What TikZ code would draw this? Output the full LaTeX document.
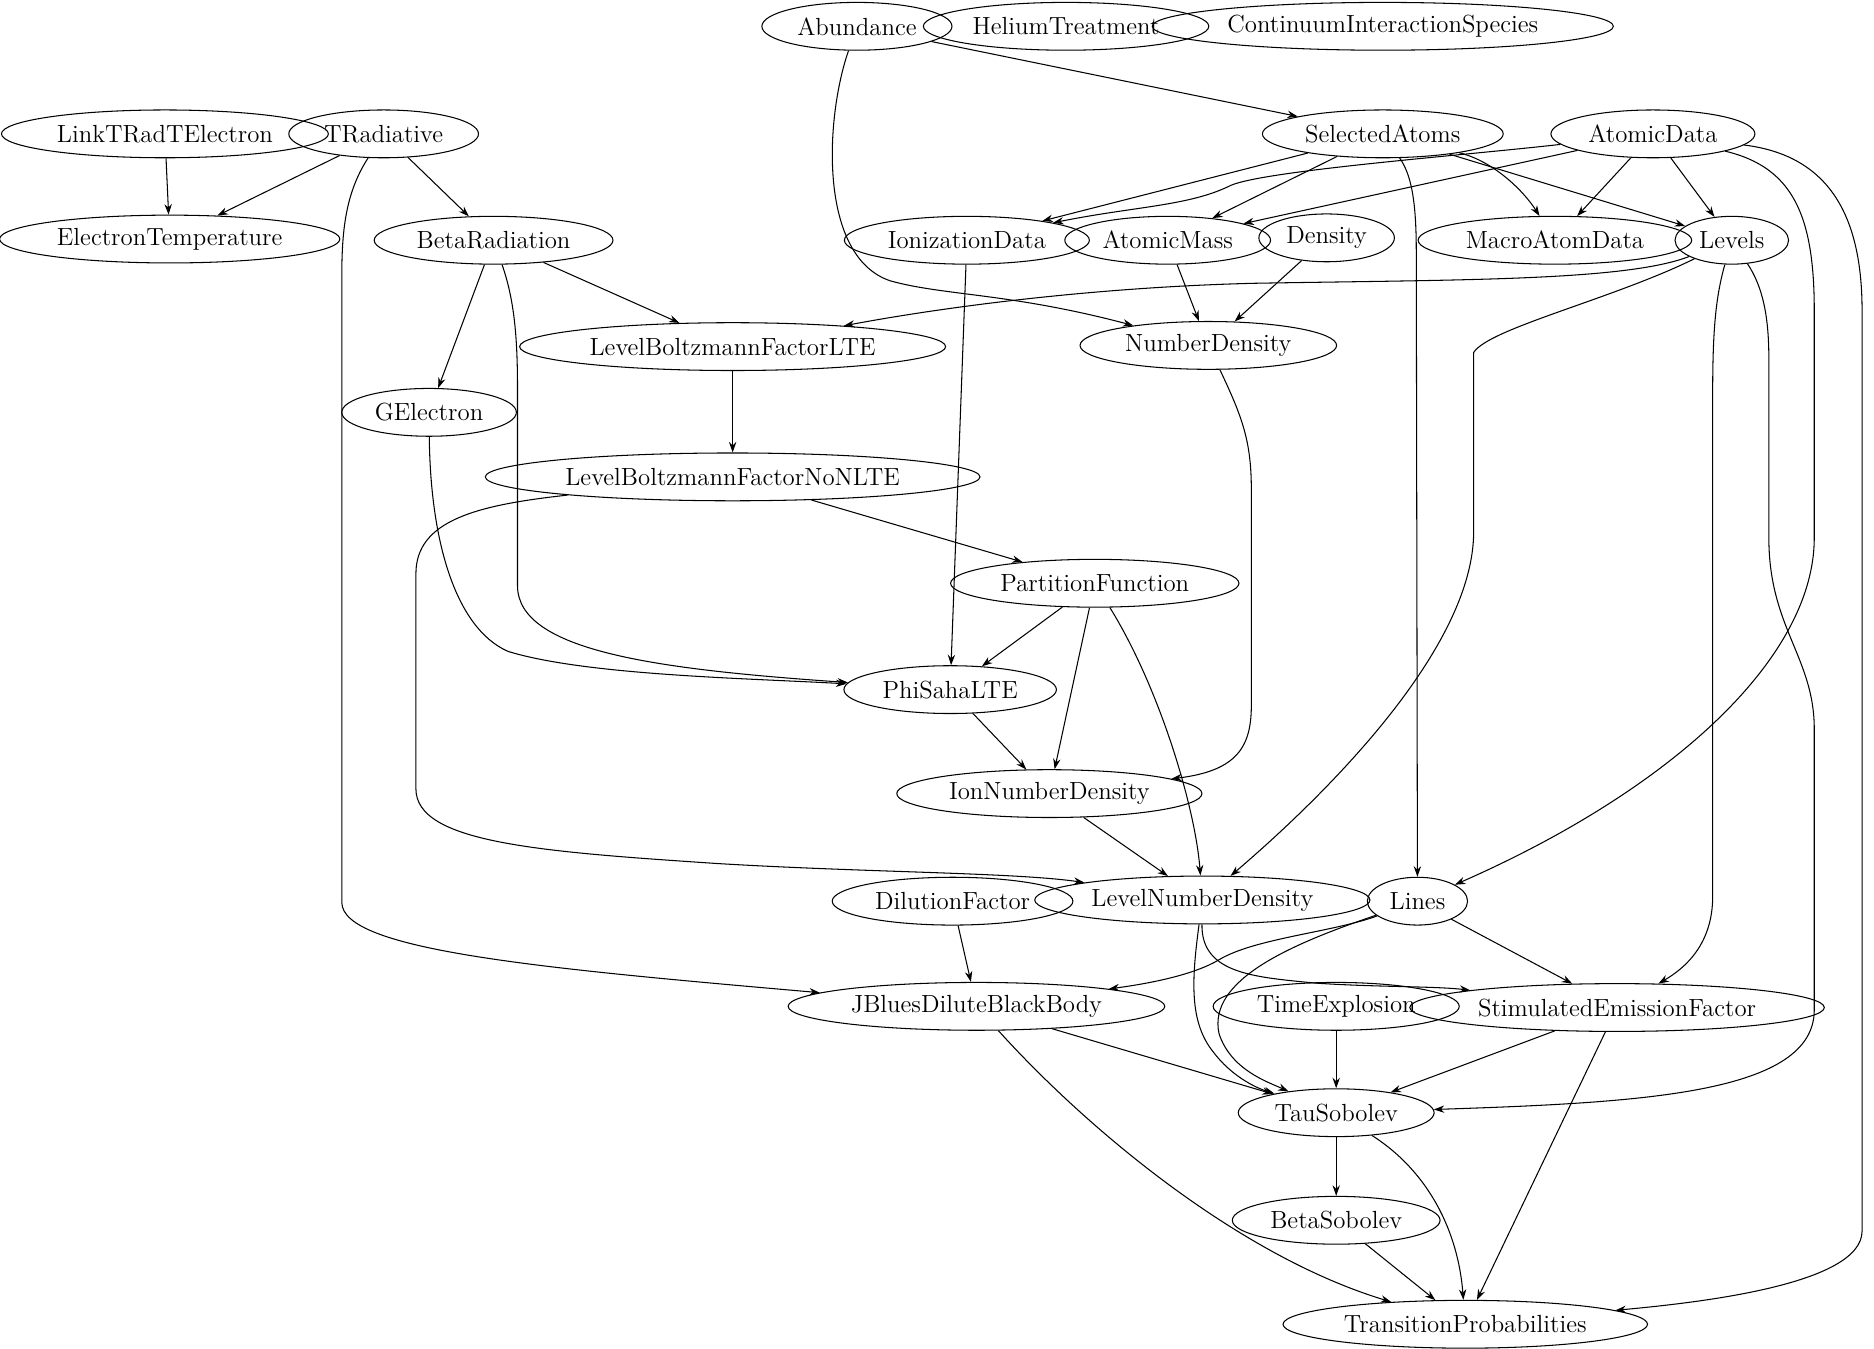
\documentclass[tikz,border=0pt]{standalone}
\usepackage{fontspec}
\usetikzlibrary{arrows.meta,shapes.geometric}

\begin{document}
\begin{tikzpicture}[
  font=\fontsize{11.8}{14}\selectfont,
  blob/.style={draw, ellipse, line width=0.5pt, inner xsep=3.6pt, inner ysep=2pt, minimum height=0.8cm},
  dep/.style={draw, line width=0.5pt, -{Stealth[length=5pt,width=3.5pt]}}
]
\useasboundingbox (0,0) rectangle (31.36,-22.56);
\node[blob] (Abundance) at (14.34,-0.44) {Abundance};
\node[blob] (HeliumTreatment) at (17.84,-0.44) {HeliumTreatment};
\node[blob] (ContinuumInteractionSpecies) at (23.14,-0.44) {ContinuumInteractionSpecies};
\node[blob] (LinkTRadTElectron) at (2.76,-2.24) {LinkTRadTElectron};
\node[blob] (TRadiative) at (6.42,-2.24) {TRadiative};
\node[blob] (SelectedAtoms) at (23.14,-2.24) {SelectedAtoms};
\node[blob] (AtomicData) at (27.66,-2.24) {AtomicData};
\node[blob] (ElectronTemperature) at (2.84,-4.0) {ElectronTemperature};
\node[blob] (BetaRadiation) at (8.26,-4.02) {BetaRadiation};
\node[blob] (IonizationData) at (16.18,-4.02) {IonizationData};
\node[blob] (AtomicMass) at (19.54,-4.02) {AtomicMass};
\node[blob] (Density) at (22.2,-3.98) {Density};
\node[blob] (MacroAtomData) at (26.02,-4.02) {MacroAtomData};
\node[blob] (Levels) at (28.98,-4.02) {Levels};
\node[blob] (LevelBoltzmannFactorLTE) at (12.26,-5.8) {LevelBoltzmannFactorLTE};
\node[blob] (NumberDensity) at (20.22,-5.78) {NumberDensity};
\node[blob] (GElectron) at (7.18,-6.9) {GElectron};
\node[blob] (LevelBoltzmannFactorNoNLTE) at (12.26,-7.98) {LevelBoltzmannFactorNoNLTE};
\node[blob] (PartitionFunction) at (18.32,-9.76) {PartitionFunction};
\node[blob] (PhiSahaLTE) at (15.9,-11.54) {PhiSahaLTE};
\node[blob] (IonNumberDensity) at (17.56,-13.28) {IonNumberDensity};
\node[blob] (DilutionFactor) at (15.94,-15.08) {DilutionFactor};
\node[blob] (LevelNumberDensity) at (20.12,-15.06) {LevelNumberDensity};
\node[blob] (Lines) at (23.72,-15.08) {Lines};
\node[blob] (JBluesDiluteBlackBody) at (16.34,-16.84) {JBluesDiluteBlackBody};
\node[blob] (TimeExplosion) at (22.36,-16.84) {TimeExplosion};
\node[blob] (StimulatedEmissionFactor) at (27.06,-16.86) {StimulatedEmissionFactor};
\node[blob] (TauSobolev) at (22.36,-18.62) {TauSobolev};
\node[blob] (BetaSobolev) at (22.36,-20.42) {BetaSobolev};
\node[blob] (TransitionProbabilities) at (24.52,-22.16) {TransitionProbabilities};

\draw[dep] (Abundance) -- (SelectedAtoms);
\draw[dep] (Abundance) .. controls (13.8,-2.0) and (13.7,-4.3) .. (14.9,-4.7) .. controls (15.8,-4.95) and (16.9,-4.9) .. (NumberDensity);
\draw[dep] (LinkTRadTElectron) -- (ElectronTemperature);
\draw[dep] (TRadiative) -- (ElectronTemperature);
\draw[dep] (TRadiative) -- (BetaRadiation);
\draw[dep] (TRadiative) .. controls (5.8,-3.2) and (5.72,-3.8) .. (5.72,-4.6) -- (5.72,-15.1) .. controls (5.72,-15.9) and (9.0,-16.2) .. (JBluesDiluteBlackBody);
\draw[dep] (SelectedAtoms) -- (IonizationData);
\draw[dep] (SelectedAtoms) -- (AtomicMass);
\draw[dep] (SelectedAtoms) .. controls (25.0,-2.7) and (25.5,-3.2) .. (MacroAtomData);
\draw[dep] (SelectedAtoms) -- (Levels);
\draw[dep] (SelectedAtoms) .. controls (23.6,-2.9) and (23.7,-3.3) .. (23.7,-4.2) -- (Lines);
\draw[dep] (AtomicData) .. controls (24.5,-2.6) and (21.2,-2.85) .. (20.6,-3.1) .. controls (19.9,-3.45) and (19.0,-3.45) .. (IonizationData);
\draw[dep] (AtomicData) -- (AtomicMass);
\draw[dep] (AtomicData) -- (MacroAtomData);
\draw[dep] (AtomicData) -- (Levels);
\draw[dep] (AtomicData) .. controls (30.0,-2.8) and (30.36,-3.6) .. (30.36,-5.2) -- (30.36,-9.0) .. controls (30.36,-11.0) and (28.0,-13.2) .. (Lines);
\draw[dep] (AtomicData) .. controls (30.6,-2.6) and (31.16,-3.6) .. (31.16,-5.2) -- (31.16,-20.6) .. controls (31.16,-21.5) and (28.4,-21.8) .. (TransitionProbabilities);
\draw[dep] (BetaRadiation) -- (LevelBoltzmannFactorLTE);
\draw[dep] (BetaRadiation) -- (GElectron);
\draw[dep] (BetaRadiation) .. controls (8.6,-5.0) and (8.66,-5.6) .. (8.66,-6.5) -- (8.66,-9.8) .. controls (8.66,-10.9) and (11.0,-11.2) .. (PhiSahaLTE);
\draw[dep] (Levels) .. controls (27.2,-4.7) and (24.5,-4.68) .. (21.0,-4.74) .. controls (18.5,-4.8) and (16.0,-5.1) .. (LevelBoltzmannFactorLTE);
\draw[dep] (Levels) .. controls (27.0,-5.0) and (24.9,-5.5) .. (24.66,-5.9) -- (24.66,-8.9) .. controls (24.66,-10.8) and (22.3,-13.2) .. (LevelNumberDensity);
\draw[dep] (Levels) .. controls (28.7,-5.0) and (28.66,-5.6) .. (28.66,-6.6) -- (28.66,-15.0) .. controls (28.66,-15.8) and (28.2,-16.2) .. (StimulatedEmissionFactor);
\draw[dep] (Levels) .. controls (29.5,-4.8) and (29.6,-5.3) .. (29.6,-6.0) -- (29.6,-9.0) .. controls (29.6,-10.5) and (30.36,-11.0) .. (30.36,-12.2) -- (30.36,-16.9) .. controls (30.36,-18.3) and (27.5,-18.45) .. (TauSobolev);
\draw[dep] (IonizationData) -- (PhiSahaLTE);
\draw[dep] (AtomicMass) -- (NumberDensity);
\draw[dep] (Density) -- (NumberDensity);
\draw[dep] (NumberDensity) .. controls (20.8,-7.0) and (20.94,-7.4) .. (20.94,-8.2) -- (20.94,-11.8) .. controls (20.94,-12.5) and (20.7,-12.9) .. (IonNumberDensity);
\draw[dep] (GElectron) .. controls (7.2,-9.0) and (7.6,-10.5) .. (8.5,-10.9) .. controls (9.8,-11.3) and (12.5,-11.35) .. (PhiSahaLTE);
\draw[dep] (LevelBoltzmannFactorLTE) -- (LevelBoltzmannFactorNoNLTE);
\draw[dep] (LevelBoltzmannFactorNoNLTE) -- (PartitionFunction);
\draw[dep] (LevelBoltzmannFactorNoNLTE) .. controls (8.0,-8.45) and (6.96,-8.7) .. (6.96,-9.6) -- (6.96,-13.2) .. controls (6.96,-14.1) and (9.0,-14.25) .. (12.0,-14.45) .. controls (14.5,-14.6) and (17.0,-14.6) .. (LevelNumberDensity);
\draw[dep] (PartitionFunction) -- (PhiSahaLTE);
\draw[dep] (PartitionFunction) -- (IonNumberDensity);
\draw[dep] (PartitionFunction) .. controls (19.4,-11.5) and (20.0,-13.5) .. (LevelNumberDensity);
\draw[dep] (PhiSahaLTE) -- (IonNumberDensity);
\draw[dep] (IonNumberDensity) -- (LevelNumberDensity);
\draw[dep] (DilutionFactor) -- (JBluesDiluteBlackBody);
\draw[dep] (Lines) .. controls (22.3,-15.6) and (21.0,-15.7) .. (20.4,-16.06) .. controls (20.0,-16.3) and (19.3,-16.45) .. (JBluesDiluteBlackBody);
\draw[dep] (Lines) -- (StimulatedEmissionFactor);
\draw[dep] (Lines) .. controls (21.6,-15.8) and (20.2,-16.4) .. (20.4,-17.3) .. controls (20.6,-17.9) and (21.2,-18.1) .. (TauSobolev);
\draw[dep] (LevelNumberDensity) .. controls (20.1,-16.3) and (21.0,-16.35) .. (22.0,-16.45) .. controls (23.0,-16.52) and (24.0,-16.5) .. (StimulatedEmissionFactor);
\draw[dep] (LevelNumberDensity) .. controls (19.94,-16.4) and (19.9,-17.1) .. (20.3,-17.6) .. controls (20.6,-18.0) and (21.0,-18.2) .. (TauSobolev);
\draw[dep] (JBluesDiluteBlackBody) -- (TauSobolev);
\draw[dep] (JBluesDiluteBlackBody) .. controls (18.2,-18.9) and (20.74,-21.02) .. (TransitionProbabilities);
\draw[dep] (TimeExplosion) -- (TauSobolev);
\draw[dep] (StimulatedEmissionFactor) -- (TauSobolev);
\draw[dep] (StimulatedEmissionFactor) -- (TransitionProbabilities);
\draw[dep] (TauSobolev) -- (BetaSobolev);
\draw[dep] (TauSobolev) .. controls (23.9,-19.6) and (24.4,-20.6) .. (TransitionProbabilities);
\draw[dep] (BetaSobolev) -- (TransitionProbabilities);
\end{tikzpicture}
\end{document}
